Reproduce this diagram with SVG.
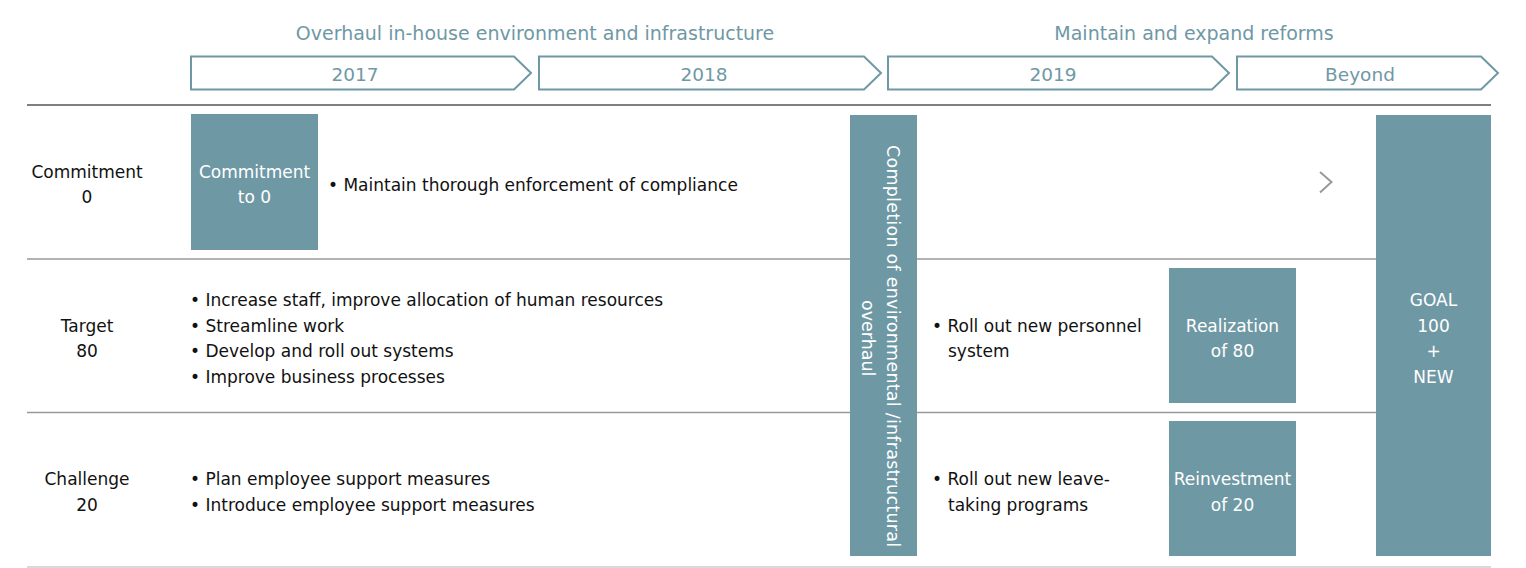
<svg xmlns="http://www.w3.org/2000/svg" width="1526" height="568" viewBox="0 0 1526 568">
<style>
.hdr{font-family:"DejaVu Sans","Liberation Sans",sans-serif;font-size:19px;fill:#6f98a5;text-anchor:middle}
.yr{font-family:"DejaVu Sans","Liberation Sans",sans-serif;font-size:18.5px;fill:#6f98a5;text-anchor:middle}
.arrow{fill:#fff;stroke:#6f98a5;stroke-width:2}
.box{fill:#6f98a5}
.t{font-family:"DejaVu Sans","Liberation Sans",sans-serif;font-size:17px;fill:#111}
.c{text-anchor:middle}
.w{font-family:"DejaVu Sans","Liberation Sans",sans-serif;font-size:17px;fill:#fff;text-anchor:middle}
.vt{font-family:"DejaVu Sans","Liberation Sans",sans-serif;font-size:17.5px;fill:#fff}
</style>
<rect width="1526" height="568" fill="#fff"/>
<g id="headers">
<text class="hdr" x="535" y="40">Overhaul in-house environment and infrastructure</text>
<text class="hdr" x="1194" y="40">Maintain and expand reforms</text>
</g>
<g id="timeline">
<g id="y2017"><polygon class="arrow" points="191,56.5 514,56.5 531,73 514,89.5 191,89.5"/><text class="yr" x="355" y="81">2017</text></g>
<g id="y2018"><polygon class="arrow" points="539,56.5 864,56.5 881,73 864,89.5 539,89.5"/><text class="yr" x="704" y="81">2018</text></g>
<g id="y2019"><polygon class="arrow" points="888,56.5 1212,56.5 1229,73 1212,89.5 888,89.5"/><text class="yr" x="1053" y="81">2019</text></g>
<g id="ybeyond"><polygon class="arrow" points="1237,56.5 1481,56.5 1498,73 1481,89.5 1237,89.5"/><text class="yr" x="1360" y="81">Beyond</text></g>
</g>
<g id="rules">
<line x1="27" y1="105" x2="1491" y2="105" stroke="#555" stroke-width="1.5"/>
<line x1="27" y1="259" x2="1376" y2="259" stroke="#999" stroke-width="1.5"/>
<line x1="27" y1="412.5" x2="1376" y2="412.5" stroke="#999" stroke-width="1.5"/>
<line x1="27" y1="567" x2="1491" y2="567" stroke="#ccc" stroke-width="1.5"/>
</g>
<g id="row-labels">
<text class="t c" x="87" y="178">Commitment</text>
<text class="t c" x="87" y="203">0</text>
<text class="t c" x="87" y="332">Target</text>
<text class="t c" x="87" y="357">80</text>
<text class="t c" x="87" y="485">Challenge</text>
<text class="t c" x="87" y="511">20</text>
</g>
<g id="commitment-box">
<rect class="box" x="191" y="114" width="127" height="136"/>
<text class="w" x="254.5" y="178">Commitment</text>
<text class="w" x="254.5" y="203">to 0</text>
</g>
<g id="row1-text">
<text class="t" x="328" y="191">• Maintain thorough enforcement of compliance</text>
</g>
<g id="row2-text">
<text class="t" x="190" y="306">• Increase staff, improve allocation of human resources</text>
<text class="t" x="190" y="332">• Streamline work</text>
<text class="t" x="190" y="357">• Develop and roll out systems</text>
<text class="t" x="190" y="383">• Improve business processes</text>
</g>
<g id="row3-text">
<text class="t" x="190" y="485">• Plan employee support measures</text>
<text class="t" x="190" y="511">• Introduce employee support measures</text>
</g>
<g id="completion-bar">
<rect class="box" x="850" y="115" width="67" height="441"/>
<text class="vt" transform="translate(887,145) rotate(90)" x="0" y="0" textLength="402" lengthAdjust="spacing">Completion of environmental /infrastructural</text>
<text class="vt" transform="translate(862,300) rotate(90)" x="0" y="0">overhaul</text>
</g>
<g id="col3-text">
<text class="t" x="932" y="332">• Roll out new personnel</text>
<text class="t" x="948" y="357">system</text>
<text class="t" x="932" y="485">• Roll out new leave-</text>
<text class="t" x="948" y="511">taking programs</text>
</g>
<g id="realization-box">
<rect class="box" x="1169" y="268" width="127" height="135"/>
<text class="w" x="1232.5" y="332">Realization</text>
<text class="w" x="1232.5" y="357">of 80</text>
</g>
<g id="reinvestment-box">
<rect class="box" x="1169" y="421" width="127" height="135"/>
<text class="w" x="1232.5" y="485">Reinvestment</text>
<text class="w" x="1232.5" y="511">of 20</text>
</g>
<g id="goal-box">
<rect class="box" x="1376" y="115" width="115" height="441"/>
<text class="w" x="1433.5" y="306">GOAL</text>
<text class="w" x="1433.5" y="332">100</text>
<text class="w" x="1433.5" y="357">+</text>
<text class="w" x="1433.5" y="383">NEW</text>
</g>
<g id="connectors">
<polyline points="1320,172 1331.5,182 1320,192.5" fill="none" stroke="#999" stroke-width="2"/>
</g>
</svg>
